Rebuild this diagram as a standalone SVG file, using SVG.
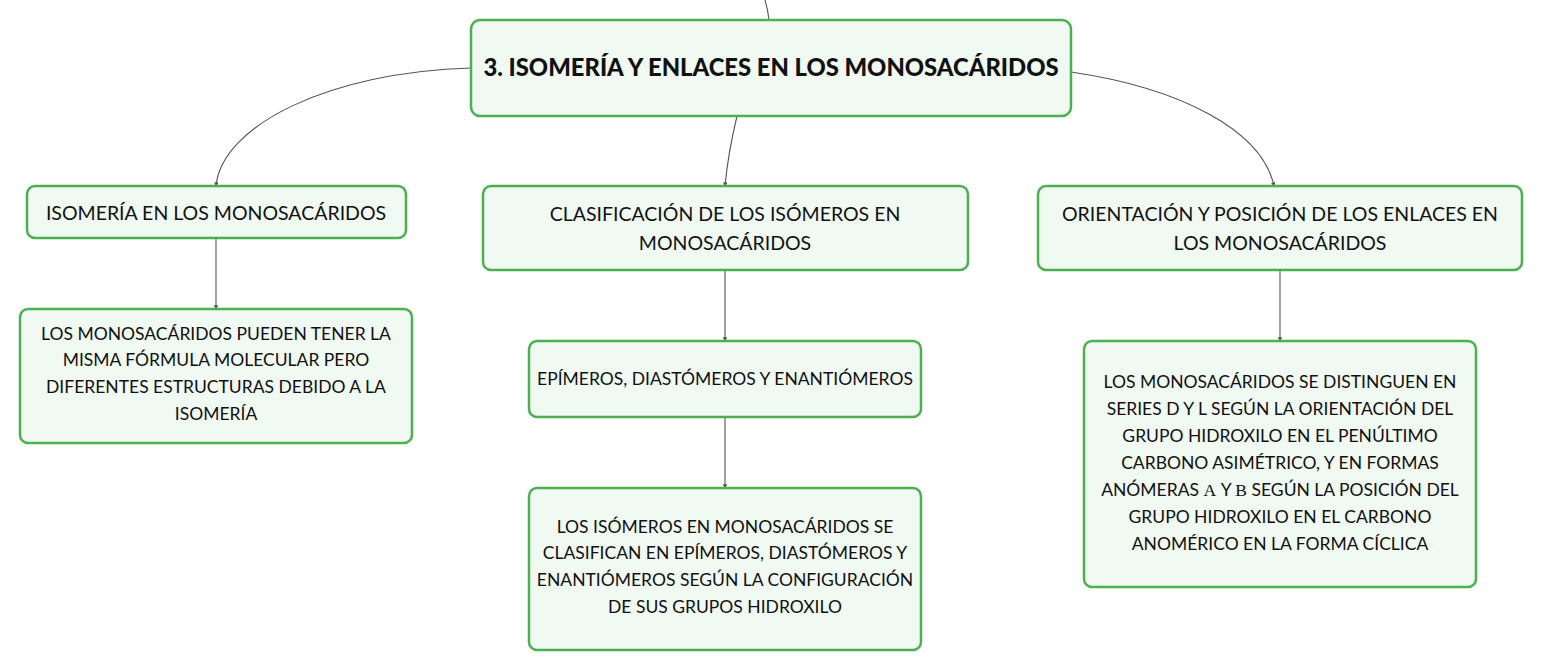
<svg xmlns="http://www.w3.org/2000/svg" width="1543" height="672" viewBox="0 0 1543 672">
<defs>
<marker id="arr" viewBox="0 0 6 6" refX="5" refY="3" markerWidth="4" markerHeight="4" orient="auto">
<path d="M0,0 L6,3 L0,6 z" fill="#555"/>
</marker>
<style>
.box{fill:#f0f9f2;stroke:#4caf50;stroke-width:2.5}
.t{font-family:Lato,"Noto Sans",sans-serif;font-size:17.5px;fill:#111;text-anchor:middle}
.t1{font-family:Lato,"Noto Sans",sans-serif;font-size:19.5px;fill:#111;text-anchor:middle}
.root{font-family:Lato,"Noto Sans",sans-serif;font-size:23.8px;font-weight:900;fill:#111;text-anchor:middle}
.g{font-family:"Liberation Serif",serif}
.c{fill:none;stroke:#555;stroke-width:1.1;marker-end:url(#arr)}
</style>
</defs>
<rect width="1543" height="672" fill="#ffffff"/>
<g id="connectors">
<path class="c" d="M765,0 Q768,10 769,20" style="marker-end:none"/>
<path class="c" d="M471,68 C330,72 222,125 216,186"/>
<path class="c" d="M737,116 C730,145 727,165 725,186"/>
<path class="c" d="M1071,72 C1180,88 1262,130 1274,186"/>
<path class="c" d="M216,238 L216,309"/>
<path class="c" d="M725,270 L725,341"/>
<path class="c" d="M725,417 L725,488"/>
<path class="c" d="M1280,270 L1280,341"/>
</g>
<g id="root">
<rect class="box" x="471" y="20" width="600" height="96" rx="9"/>
<text class="root" x="771" y="75.5">3. ISOMERÍA Y ENLACES EN LOS MONOSACÁRIDOS</text>
</g>
<g id="n-isomeria">
<rect class="box" x="27" y="186" width="379" height="52" rx="8"/>
<text class="t1" x="216" y="220">ISOMERÍA EN LOS MONOSACÁRIDOS</text>
</g>
<g id="n-clasificacion">
<rect class="box" x="483" y="186" width="485" height="84" rx="8"/>
<text class="t1" x="725" y="221">CLASIFICACIÓN DE LOS ISÓMEROS EN</text>
<text class="t1" x="725" y="250">MONOSACÁRIDOS</text>
</g>
<g id="n-orientacion">
<rect class="box" x="1038" y="186" width="484" height="84" rx="8"/>
<text class="t1" x="1280" y="221">ORIENTACIÓN Y POSICIÓN DE LOS ENLACES EN</text>
<text class="t1" x="1280" y="250">LOS MONOSACÁRIDOS</text>
</g>
<g id="n-isomeria-desc">
<rect class="box" x="20" y="309" width="392" height="134" rx="8"/>
<text class="t" x="216" y="340">LOS MONOSACÁRIDOS PUEDEN TENER LA</text>
<text class="t" x="216" y="366">MISMA FÓRMULA MOLECULAR PERO</text>
<text class="t" x="216" y="393">DIFERENTES ESTRUCTURAS DEBIDO A LA</text>
<text class="t" x="216" y="420">ISOMERÍA</text>
</g>
<g id="n-tipos">
<rect class="box" x="529" y="341" width="392" height="76" rx="8"/>
<text class="t" x="725" y="385">EPÍMEROS, DIASTÓMEROS Y ENANTIÓMEROS</text>
</g>
<g id="n-tipos-desc">
<rect class="box" x="529" y="488" width="392" height="162" rx="8"/>
<text class="t" x="725" y="533">LOS ISÓMEROS EN MONOSACÁRIDOS SE</text>
<text class="t" x="725" y="559">CLASIFICAN EN EPÍMEROS, DIASTÓMEROS Y</text>
<text class="t" x="725" y="586">ENANTIÓMEROS SEGÚN LA CONFIGURACIÓN</text>
<text class="t" x="725" y="613">DE SUS GRUPOS HIDROXILO</text>
</g>
<g id="n-orientacion-desc">
<rect class="box" x="1084" y="341" width="392" height="246" rx="8"/>
<text class="t" x="1280" y="388">LOS MONOSACÁRIDOS SE DISTINGUEN EN</text>
<text class="t" x="1280" y="415">SERIES D Y L SEGÚN LA ORIENTACIÓN DEL</text>
<text class="t" x="1280" y="442">GRUPO HIDROXILO EN EL PENÚLTIMO</text>
<text class="t" x="1280" y="469">CARBONO ASIMÉTRICO, Y EN FORMAS</text>
<text class="t" x="1280" y="496">ANÓMERAS <tspan class="g">Α</tspan> Y <tspan class="g">Β</tspan> SEGÚN LA POSICIÓN DEL</text>
<text class="t" x="1280" y="523">GRUPO HIDROXILO EN EL CARBONO</text>
<text class="t" x="1280" y="550">ANOMÉRICO EN LA FORMA CÍCLICA</text>
</g>
</svg>
